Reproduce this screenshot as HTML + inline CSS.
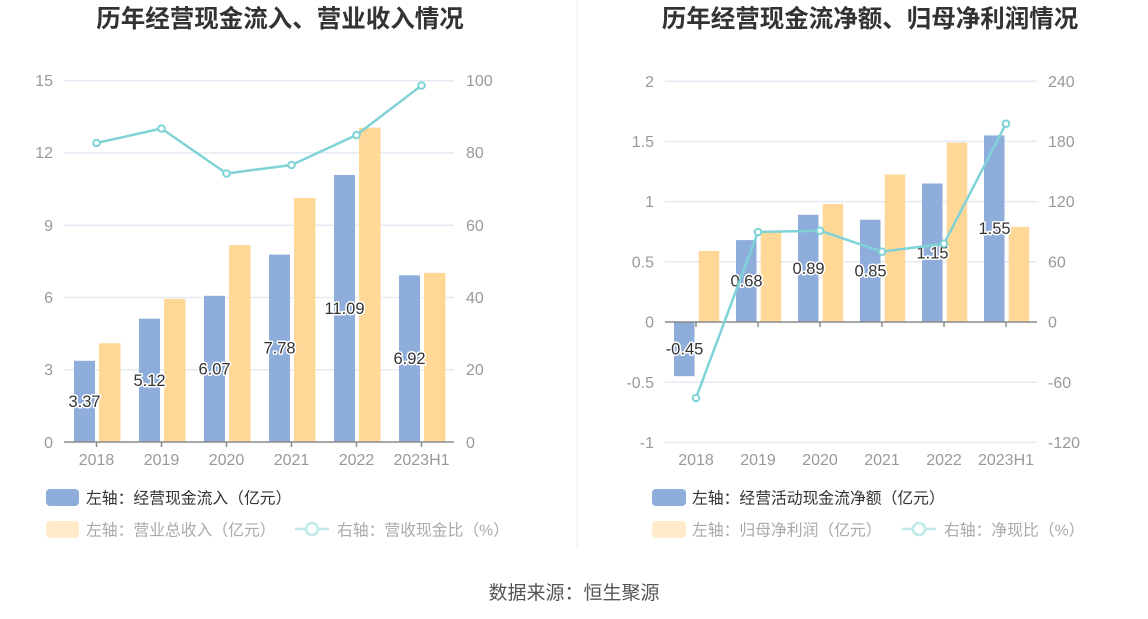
<!DOCTYPE html>
<html>
<head>
<meta charset="utf-8">
<style>
  html, body { margin:0; padding:0; background:#fff; }
  svg { display:block; }
  text { font-family: "Liberation Sans", "Noto Sans CJK SC", sans-serif; }
  .ax { font-size:16px; fill:#999; }
  .lbl { font-size:16.5px; fill:#333; stroke:#fff; stroke-width:3px; paint-order:stroke; stroke-linejoin:round; }
  .title { font-size:24.5px; font-weight:bold; fill:#333; }
  .lg { font-size:15.8px; }
</style>
</head>
<body>
<svg width="1148" height="619" viewBox="0 0 1148 619" xmlns="http://www.w3.org/2000/svg">
  <rect x="0" y="0" width="1148" height="619" fill="#fff"/>
  <!-- divider -->
  <line x1="577" y1="0" x2="577" y2="548" stroke="#ececec" stroke-width="1"/>

  <!-- ================= LEFT CHART ================= -->
  <text class="title" x="280" y="27" text-anchor="middle">历年经营现金流入、营业收入情况</text>

  <!-- grid -->
  <g stroke="#e4e9f3" stroke-width="1.5">
    <line x1="64" y1="80.7" x2="454" y2="80.7"/>
    <line x1="64" y1="152.9" x2="454" y2="152.9"/>
    <line x1="64" y1="225.2" x2="454" y2="225.2"/>
    <line x1="64" y1="297.5" x2="454" y2="297.5"/>
    <line x1="64" y1="369.7" x2="454" y2="369.7"/>
  </g>
  <!-- left y labels -->
  <g class="ax" text-anchor="end">
    <text x="53" y="86">15</text>
    <text x="53" y="158">12</text>
    <text x="53" y="231">9</text>
    <text x="53" y="303">6</text>
    <text x="53" y="375">3</text>
    <text x="53" y="448">0</text>
  </g>
  <!-- right y labels -->
  <g class="ax" text-anchor="start">
    <text x="466" y="86">100</text>
    <text x="466" y="158">80</text>
    <text x="466" y="231">60</text>
    <text x="466" y="303">40</text>
    <text x="466" y="375">20</text>
    <text x="466" y="448">0</text>
  </g>

  <!-- bars: blue -->
  <g fill="#8eaddb">
    <rect x="74" y="360.8" width="21" height="81.2"/>
    <rect x="139" y="318.7" width="21" height="123.3"/>
    <rect x="204" y="295.8" width="21" height="146.2"/>
    <rect x="269" y="254.6" width="21" height="187.4"/>
    <rect x="334" y="174.9" width="21" height="267.1"/>
    <rect x="399" y="275.3" width="21" height="166.7"/>
  </g>
  <!-- bars: orange -->
  <g fill="#ffd898">
    <rect x="99" y="343.2" width="21.5" height="98.8"/>
    <rect x="164" y="298.9" width="21.5" height="143.1"/>
    <rect x="229" y="245" width="21.5" height="197"/>
    <rect x="294" y="198" width="21.5" height="244"/>
    <rect x="359" y="127.7" width="21.5" height="314.3"/>
    <rect x="424" y="272.9" width="21.5" height="169.1"/>
  </g>

  <!-- x axis -->
  <line x1="64" y1="442" x2="454" y2="442" stroke="#8a8a8a" stroke-width="1.5"/>
  <g stroke="#8a8a8a" stroke-width="1.5">
    <line x1="96.5" y1="442" x2="96.5" y2="447"/>
    <line x1="161.5" y1="442" x2="161.5" y2="447"/>
    <line x1="226.5" y1="442" x2="226.5" y2="447"/>
    <line x1="291.5" y1="442" x2="291.5" y2="447"/>
    <line x1="356.5" y1="442" x2="356.5" y2="447"/>
    <line x1="421.5" y1="442" x2="421.5" y2="447"/>
  </g>
  <g class="ax" text-anchor="middle">
    <text x="96.5" y="465">2018</text>
    <text x="161.5" y="465">2019</text>
    <text x="226.5" y="465">2020</text>
    <text x="291.5" y="465">2021</text>
    <text x="356.5" y="465">2022</text>
    <text x="421.5" y="465">2023H1</text>
  </g>

  <!-- bar labels -->
  <g class="lbl" text-anchor="middle">
    <text x="84.5" y="407">3.37</text>
    <text x="149.5" y="386">5.12</text>
    <text x="214.5" y="374.5">6.07</text>
    <text x="279.5" y="353.5">7.78</text>
    <text x="344.5" y="314">11.09</text>
    <text x="409.5" y="364">6.92</text>
  </g>

  <!-- line -->
  <polyline points="96.5,143 161.5,128.5 226.5,173.5 291.5,165 356.5,135 421.5,85.5" fill="none" stroke="#7fd3d7" stroke-width="2.5" stroke-linejoin="round"/>
  <g fill="#fff" stroke="#7fd3d7" stroke-width="2">
    <circle cx="96.5" cy="143" r="3.3"/>
    <circle cx="161.5" cy="128.5" r="3.3"/>
    <circle cx="226.5" cy="173.5" r="3.3"/>
    <circle cx="291.5" cy="165" r="3.3"/>
    <circle cx="356.5" cy="135" r="3.3"/>
    <circle cx="421.5" cy="85.5" r="3.3"/>
  </g>

  <!-- legend left -->
  <rect x="46" y="489" width="33" height="17" rx="4" fill="#8eaddb"/>
  <text class="lg" x="86" y="503.5" fill="#333">左轴：经营现金流入（亿元）</text>
  <rect x="46" y="521" width="33" height="17" rx="4" fill="#ffebc9"/>
  <text class="lg" x="86" y="535.5" fill="#aaa">左轴：营业总收入（亿元）</text>
  <line x1="295" y1="529" x2="329" y2="529" stroke="#bfe9eb" stroke-width="2.5"/>
  <circle cx="312" cy="529" r="6" fill="#fff" stroke="#bfe9eb" stroke-width="2.5"/>
  <text class="lg" x="337" y="535.5" fill="#aaa">右轴：营收现金比（%）</text>

  <!-- ================= RIGHT CHART ================= -->
  <text class="title" x="870" y="27" text-anchor="middle">历年经营现金流净额、归母净利润情况</text>

  <g stroke="#e4e9f3" stroke-width="1.5">
    <line x1="665" y1="81.2" x2="1037" y2="81.2"/>
    <line x1="665" y1="141.4" x2="1037" y2="141.4"/>
    <line x1="665" y1="201.6" x2="1037" y2="201.6"/>
    <line x1="665" y1="261.8" x2="1037" y2="261.8"/>
    <line x1="665" y1="382.2" x2="1037" y2="382.2"/>
    <line x1="665" y1="442.4" x2="1037" y2="442.4"/>
  </g>
  <g class="ax" text-anchor="end">
    <text x="654" y="87">2</text>
    <text x="654" y="147">1.5</text>
    <text x="654" y="207">1</text>
    <text x="654" y="267.5">0.5</text>
    <text x="654" y="327.5">0</text>
    <text x="654" y="388">-0.5</text>
    <text x="654" y="448">-1</text>
  </g>
  <g class="ax" text-anchor="start">
    <text x="1048" y="87">240</text>
    <text x="1048" y="147">180</text>
    <text x="1048" y="207">120</text>
    <text x="1048" y="267.5">60</text>
    <text x="1048" y="327.5">0</text>
    <text x="1048" y="388">-60</text>
    <text x="1048" y="448">-120</text>
  </g>

  <!-- bars blue -->
  <g fill="#8eaddb">
    <rect x="674" y="322" width="20.5" height="54.2"/>
    <rect x="736" y="240.1" width="20.5" height="81.9"/>
    <rect x="798" y="214.8" width="20.5" height="107.2"/>
    <rect x="860" y="219.7" width="20.5" height="102.3"/>
    <rect x="922" y="183.5" width="20.5" height="138.5"/>
    <rect x="984" y="135.4" width="20.5" height="186.6"/>
  </g>
  <g fill="#ffd898">
    <rect x="698.7" y="251" width="20.5" height="71"/>
    <rect x="760.7" y="231.7" width="20.5" height="90.3"/>
    <rect x="822.7" y="204" width="20.5" height="118"/>
    <rect x="884.7" y="174.5" width="20.5" height="147.5"/>
    <rect x="946.7" y="142.6" width="20.5" height="179.4"/>
    <rect x="1008.7" y="226.9" width="20.5" height="95.1"/>
  </g>

  <line x1="665" y1="322" x2="1037" y2="322" stroke="#8a8a8a" stroke-width="1.5"/>
  <g stroke="#8a8a8a" stroke-width="1.5">
    <line x1="696" y1="322" x2="696" y2="327"/>
    <line x1="758" y1="322" x2="758" y2="327"/>
    <line x1="820" y1="322" x2="820" y2="327"/>
    <line x1="882" y1="322" x2="882" y2="327"/>
    <line x1="944" y1="322" x2="944" y2="327"/>
    <line x1="1006" y1="322" x2="1006" y2="327"/>
  </g>
  <g class="ax" text-anchor="middle">
    <text x="696" y="465">2018</text>
    <text x="758" y="465">2019</text>
    <text x="820" y="465">2020</text>
    <text x="882" y="465">2021</text>
    <text x="944" y="465">2022</text>
    <text x="1006" y="465">2023H1</text>
  </g>

  <g class="lbl" text-anchor="middle">
    <text x="684.5" y="354.5">-0.45</text>
    <text x="746.5" y="286.5">0.68</text>
    <text x="808.5" y="274">0.89</text>
    <text x="870.5" y="276.5">0.85</text>
    <text x="932.5" y="258.5">1.15</text>
    <text x="994.5" y="234">1.55</text>
  </g>

  <polyline points="696,398 758,232 820,230.7 882,251.7 944,243.7 1006,123.7" fill="none" stroke="#7fd3d7" stroke-width="2.5" stroke-linejoin="round"/>
  <g fill="#fff" stroke="#7fd3d7" stroke-width="2">
    <circle cx="696" cy="398" r="3.3"/>
    <circle cx="758" cy="232" r="3.3"/>
    <circle cx="820" cy="230.7" r="3.3"/>
    <circle cx="882" cy="251.7" r="3.3"/>
    <circle cx="944" cy="243.7" r="3.3"/>
    <circle cx="1006" cy="123.7" r="3.3"/>
  </g>

  <!-- legend right -->
  <rect x="652" y="489" width="34" height="17" rx="4" fill="#8eaddb"/>
  <text class="lg" x="692" y="503.5" fill="#333">左轴：经营活动现金流净额（亿元）</text>
  <rect x="652" y="521" width="34" height="17" rx="4" fill="#ffebc9"/>
  <text class="lg" x="692" y="535.5" fill="#aaa">左轴：归母净利润（亿元）</text>
  <line x1="902" y1="529" x2="936" y2="529" stroke="#bfe9eb" stroke-width="2.5"/>
  <circle cx="919" cy="529" r="6" fill="#fff" stroke="#bfe9eb" stroke-width="2.5"/>
  <text class="lg" x="944" y="535.5" fill="#aaa">右轴：净现比（%）</text>

  <!-- source -->
  <text x="574" y="599" text-anchor="middle" font-size="19" fill="#555">数据来源：恒生聚源</text>
</svg>
</body>
</html>
